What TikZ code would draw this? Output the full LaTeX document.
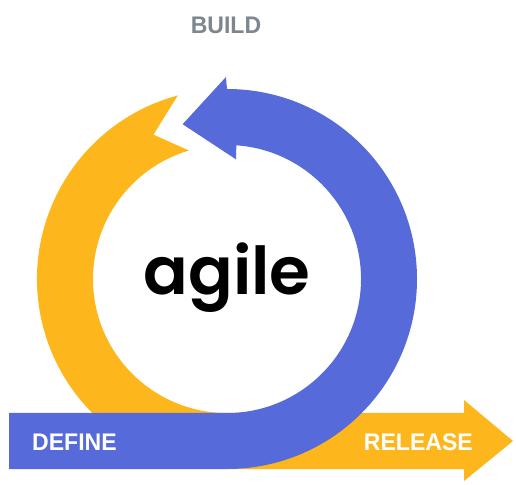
\documentclass[tikz,border=0pt]{standalone}
\usepackage{fontspec}
\setmainfont{Liberation Sans}
\newfontfamily\agilefont{Poppins}[BoldFont={Poppins SemiBold}]
\usetikzlibrary{calc}
\definecolor{agblue}{HTML}{566BD9}
\definecolor{agyellow}{HTML}{FDB61B}
\definecolor{aggray}{HTML}{7E8690}
\tikzset{
  lbl/.style={font=\bfseries\fontsize{24}{24}\selectfont, inner sep=0pt, anchor=base west, xscale=0.96},
}
\begin{document}
\begin{tikzpicture}[x=1pt,y=1pt]
\useasboundingbox (0,0) rectangle (516,484);
\coordinate (c) at (227,205);
% yellow: ring from tail (top-left) down to bottom, then arrow to the right
\fill[agyellow] ([shift={(c)}]105:190) arc[start angle=105, end angle=270, radius=190]
  -- (464,15) -- (464,3) -- (513,43) -- (464,84) -- (464,71) -- (227,71)
  arc[start angle=270, end angle=106.5, radius=134]
  -- ([shift={(c)}]117:162) -- cycle;
% blue: bar from the left, ring up the right side, arrowhead at the top
\fill[agblue] (9,15) -- (227,15) arc[start angle=-90, end angle=90, radius=190]
  -- ([shift={(c)}]90.3:202) -- ([shift={(c)}]106:161) -- ([shift={(c)}]85.7:120)
  -- ([shift={(c)}]86:134) arc[start angle=86, end angle=-90, radius=134]
  -- (9,71) -- cycle;
\node[lbl, anchor=base, text=aggray] (build) at (226,450) {BUILD};
\node[font=\agilefont\bfseries\fontsize{66}{66}\selectfont, inner sep=0pt, anchor=base] (agile) at (227,189) {agile};
\node[lbl, text=white] (define) at (32,33) {DEFINE};
\node[lbl, anchor=base east, text=white] (release) at (473,33) {RELEASE};
\end{tikzpicture}
\end{document}
